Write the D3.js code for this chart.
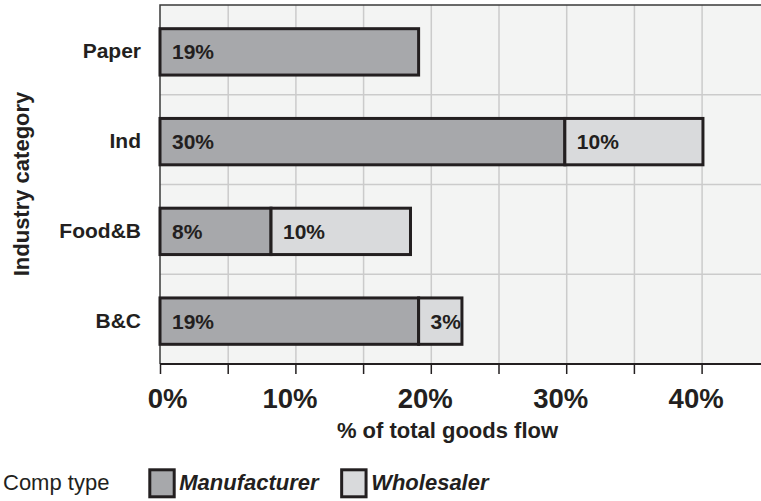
<!DOCTYPE html>
<html>
<head>
<meta charset="utf-8">
<script src="https://cdn.jsdelivr.net/npm/d3@7"></script>
<style>
  body { margin: 0; background: #fff; }
  svg { display: block; font-family: "Liberation Sans", Arial, sans-serif; }
</style>
</head>
<body>
<svg width="761" height="501"></svg>
<script>
// data
const categories = ["Paper", "Ind", "Food&B", "B&C"];
const series = ["Manufacturer", "Wholesaler"];
const manufacturer = [19.1, 29.9, 8.2, 19.1];
const wholesaler = [0, 10.2, 10.3, 3.2];
const xTicks = [0, 5, 10, 15, 20, 25, 30, 35, 40];
const xLabels = [0, 10, 20, 30, 40];

const fills = { Manufacturer: "#a7a8ab", Wholesaler: "#d9dadc" };
const ink = "#231f20";

const svg = d3.select("svg");

const x = d3.scaleLinear().domain([0, 45]).range([160, 160 + 45 * 13.54]);
const y = d3.scaleBand().domain(categories).range([5, 364])
    .paddingInner(0.45).paddingOuter(0.225);

//panel background
svg.append("rect")
    .attr("x", x(0)).attr("y", 5)
    .attr("width", 800).attr("height", 359)
    .attr("fill", "#f3f4f3");

//vertical gridlines
svg.append("g")
    .attr("transform", "translate(0,5)")
    .call(d3.axisBottom(x).tickValues(xTicks.filter(d => d > 0)).tickSize(359).tickFormat(""))
    .call(g => g.select(".domain").remove())
    .call(g => g.selectAll("line").attr("stroke", "#cbcbcb").attr("stroke-width", 1.5));

//horizontal gridlines between categories
const step = y.step();
const bounds = categories.slice(1).map(c => y(c) - step * y.paddingInner() / 2);
svg.append("g").selectAll("line")
    .data(bounds)
    .join("line")
    .attr("x1", x(0)).attr("x2", 761)
    .attr("y1", d => d).attr("y2", d => d)
    .attr("stroke", "#cbcbcb").attr("stroke-width", 1.5);

//panel border (top, left)
svg.append("path")
    .attr("d", `M${x(0)},364V5H761`)
    .attr("fill", "none").attr("stroke", "#3a3a3a").attr("stroke-width", 1.5);

//stacked bars
const rows = categories.map((c, i) => ({ cat: c, Manufacturer: manufacturer[i], Wholesaler: wholesaler[i] }));
const stacked = d3.stack().keys(series)(rows);

const segs = [];
stacked.forEach(layer => {
    layer.forEach(d => {
        const v = d[1] - d[0];
        if (v > 0) segs.push({ key: layer.key, cat: d.data.cat, x0: d[0], x1: d[1], v });
    });
});

svg.append("g").selectAll("rect")
    .data(segs)
    .join("rect")
    .attr("x", d => x(d.x0))
    .attr("y", d => y(d.cat) + 3.5)
    .attr("width", d => x(d.x1) - x(d.x0))
    .attr("height", y.bandwidth() - 3)
    .attr("fill", d => fills[d.key])
    .attr("stroke", ink)
    .attr("stroke-width", 3);

svg.append("g").selectAll("text")
    .data(segs)
    .join("text")
    .attr("x", d => x(d.x0) + 12)
    .attr("y", d => y(d.cat) + y.bandwidth() / 2 + 2)
    .attr("dy", "0.36em")
    .attr("font-size", 21)
    .attr("font-weight", "bold")
    .attr("fill", ink)
    .text(d => Math.round(d.v) + "%");

//x axis
const xAxis = svg.append("g")
    .attr("transform", "translate(0,364)")
    .call(d3.axisBottom(x).tickValues(xTicks).tickSize(10).tickFormat("").tickSizeOuter(0));
xAxis.select(".domain").attr("d", `M${x(0)},0H761`).attr("stroke", ink).attr("stroke-width", 2);
xAxis.selectAll(".tick line").attr("stroke", ink).attr("stroke-width", 1.5);

const xLab = svg.append("g")
    .attr("transform", "translate(0,364)")
    .call(d3.axisBottom(x).tickValues(xLabels).tickSize(0).tickFormat(d => d + "%"));
xLab.select(".domain").remove();
xLab.selectAll("text")
    .attr("y", 44)
    .attr("dy", 0)
    .attr("dx", d => d === 0 ? 7 : -6)
    .attr("font-size", 27.5)
    .attr("font-weight", "bold")
    .attr("font-family", "Liberation Sans, Arial, sans-serif")
    .attr("fill", ink);

svg.append("text")
    .attr("x", 447.5).attr("y", 438)
    .attr("text-anchor", "middle")
    .attr("font-size", 22).attr("font-weight", "bold").attr("fill", ink)
    .text("% of total goods flow");

//y axis labels
const yAxis = svg.append("g")
    .attr("transform", "translate(141,0)")
    .call(d3.axisLeft(y).tickSize(0).tickPadding(0));
yAxis.select(".domain").remove();
yAxis.selectAll("text")
    .attr("dy", "0.36em")
    .attr("y", 1)
    .attr("font-size", 21)
    .attr("font-weight", "bold")
    .attr("font-family", "Liberation Sans, Arial, sans-serif")
    .attr("fill", ink);

svg.append("text")
    .attr("transform", "translate(29,184) rotate(-90)")
    .attr("text-anchor", "middle")
    .attr("font-size", 22).attr("font-weight", "bold").attr("fill", ink)
    .text("Industry category");

//legend
svg.append("text")
    .attr("x", 3).attr("y", 490)
    .attr("font-size", 22).attr("fill", ink)
    .text("Comp type");

let lx = 149.8;
series.forEach(s => {
    svg.append("rect")
        .attr("x", lx).attr("y", 469.8)
        .attr("width", 24.4).attr("height", 27)
        .attr("fill", fills[s]).attr("stroke", ink).attr("stroke-width", 3);
    const t = svg.append("text")
        .attr("x", lx + 29.5).attr("y", 490)
        .attr("font-size", 22).attr("font-weight", "bold").attr("font-style", "italic")
        .attr("fill", ink)
        .text(s);
    lx += 29.5 + t.node().getComputedTextLength() + 23;
});
</script>
</body>
</html>
